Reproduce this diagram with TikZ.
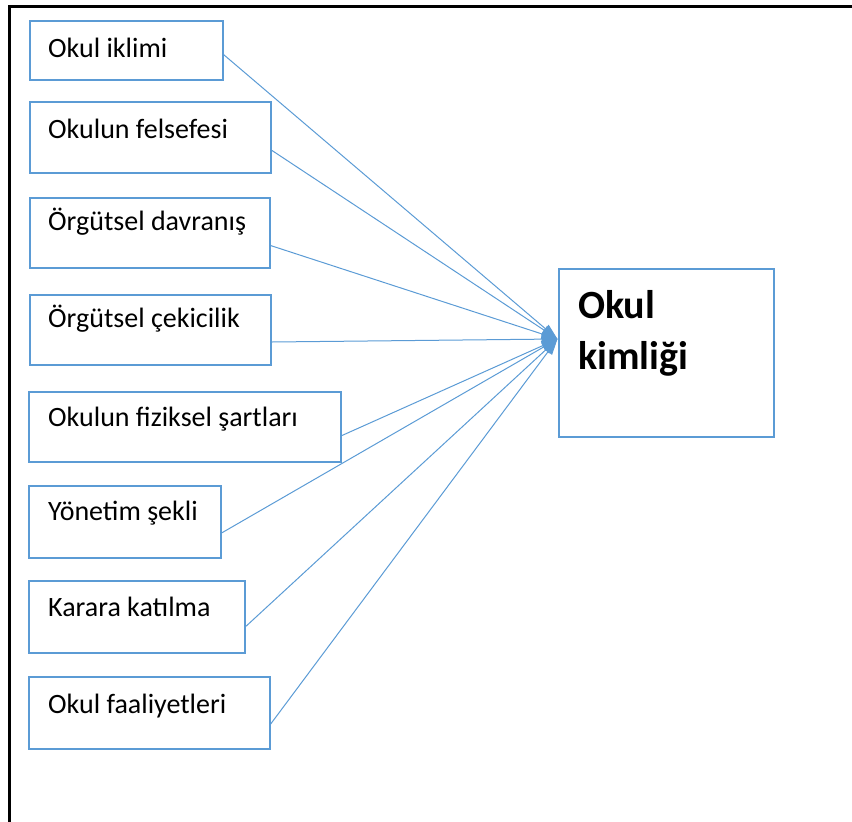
\documentclass[tikz,border=0pt]{standalone}
\usepackage{fontspec}
\setmainfont{Carlito}
\usetikzlibrary{arrows.meta}
\definecolor{officeblue}{HTML}{5B9BD5}
\tikzset{
  factorbox/.style={draw=officeblue, line width=2pt, fill=white, anchor=north west, inner sep=0pt},
  factortext/.style={anchor=base west, inner sep=0pt, font=\fontsize{28}{33}\selectfont},
  targetbox/.style={draw=officeblue, line width=2pt, fill=white, anchor=north west, inner sep=0pt,
    minimum width=215.5pt, minimum height=168pt},
  targettext/.style={anchor=base west, inner sep=0pt, align=left,
    font=\fontsize{40}{51}\selectfont\bfseries},
  link/.style={draw=officeblue, line width=1pt, -{Triangle[length=16pt,width=10pt]}},
  frameline/.style={draw=black, line width=2.5pt}
}
\begin{document}
\begin{tikzpicture}[x=1pt, y=-1pt]
  \useasboundingbox (0,0) rectangle (852,822);

  % outer frame: top and left edges only
  \coordinate (fl) at (9.5,822);
  \coordinate (fc) at (9.5,6.5);
  \coordinate (fr) at (852,6.5);
  \draw[frameline] (fl) -- (fc) -- (fr);

  % factor boxes: name / left / top / width / height / text baseline / label
  \foreach \n/\x/\y/\w/\h/\b/\t in {
      b1/29/19.5/192.5/59/57/{Okul iklimi},
      b2/29/101/241/71/138.5/{Okulun felsefesi},
      b3/29/197/239.5/70/230.5/{Örgütsel davranış},
      b4/29/294/241/70/327/{Örgütsel çekicilik},
      b5/28/390.5/312/70/426.5/{Okulun fiziksel şartları},
      b6/28/484.5/192/72.5/520/{Yönetim şekli},
      b7/28/580/216/71.5/616.5/{Karara katılma},
      b8/28/676/240.5/71.5/713/{Okul faaliyetleri}} {
    \node[factorbox, minimum width=\w pt, minimum height=\h pt] (\n) at (\x,\y) {};
    \node[factortext] (\n-t) at (48,\b) {\t};
  }

  % target box; the text anchor sits on the baseline of its last line
  \node[targetbox] (t) at (557.5,268) {};
  \node[targettext] (t-t) at (578,369) {Okul\\kimliği};

  % connectors from every factor into the target
  \foreach \n/\d in {b1/4.5, b2/13, b3/12.5, b4/12, b5/9, b6/11, b7/9.5, b8/11.5} {
    \draw[link] ([yshift=-\d pt]\n.east) -- ([yshift=14pt]t.west);
  }
\end{tikzpicture}
\end{document}
